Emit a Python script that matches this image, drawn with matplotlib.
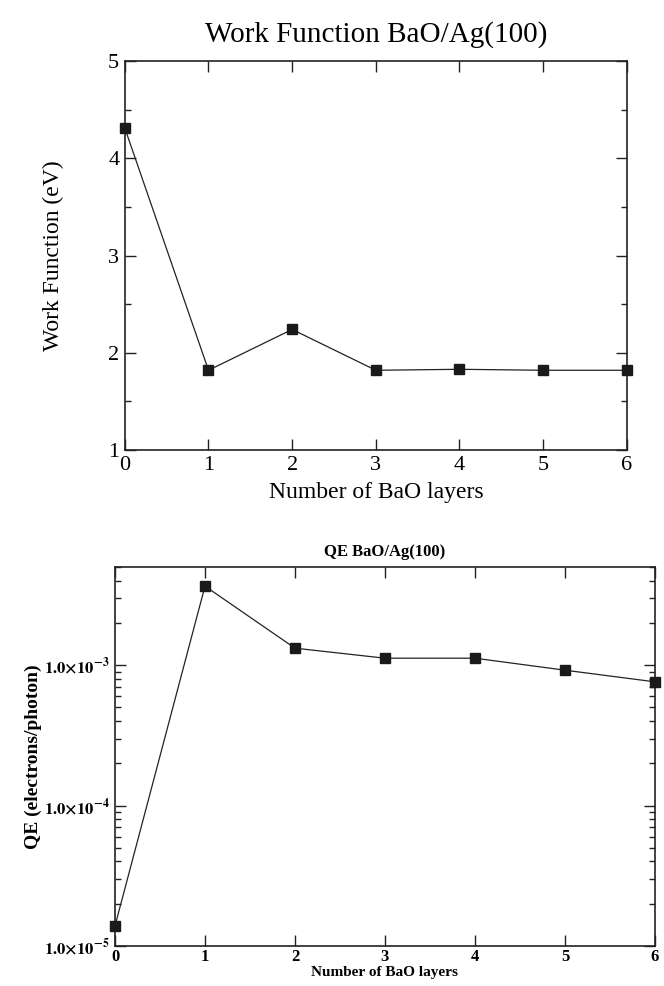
import matplotlib

matplotlib.use("Agg")
import matplotlib.pyplot as plt
import matplotlib.ticker as mticker

# Data
layers = [0, 1, 2, 3, 4, 5, 6]
work_function = [4.31, 1.82, 2.24, 1.82, 1.83, 1.82, 1.82]
qe = [1.39e-5, 3.65e-3, 1.32e-3, 1.12e-3, 1.12e-3, 0.92e-3, 0.76e-3]
qe_tick_values = [1e-5, 1e-4, 1e-3]
qe_tick_labels = [r"$\mathbf{1.0{\times}10^{-5}}$",
                  r"$\mathbf{1.0{\times}10^{-4}}$",
                  r"$\mathbf{1.0{\times}10^{-3}}$"]

FIG_SIZE = (6.64, 9.86)
FIG_DPI = 100

plt.rcParams["font.family"] = ["Liberation Serif", "DejaVu Serif"]
plt.rcParams["mathtext.fontset"] = "stix"


def _style_ticks(ax, size):
    ax.tick_params(which="both", direction="in", top=True, right=True,
                   width=1.0, color="#222222")
    ax.tick_params(which="major", length=8, labelsize=size, pad=4)
    ax.tick_params(which="minor", length=4)
    for sp in ax.spines.values():
        sp.set_linewidth(1.2)
        sp.set_color("#222222")


fig = plt.figure(figsize=FIG_SIZE, dpi=FIG_DPI)

# top: work function
ax1 = fig.add_axes([0.188, 0.5436, 0.756, 0.3945])
ax1.plot(layers, work_function, color="#222222", lw=0.9, marker="s",
         ms=7.5, mfc="#1a1a1a", mec="#1a1a1a", clip_on=False, zorder=5)
ax1.set_xlim(0, 6)
ax1.set_ylim(1, 5)
ax1.xaxis.set_major_locator(mticker.MultipleLocator(1))
ax1.yaxis.set_major_locator(mticker.MultipleLocator(1))
ax1.yaxis.set_minor_locator(mticker.MultipleLocator(0.5))
_style_ticks(ax1, 16)
ax1.set_xlabel("Number of BaO layers", fontsize=17, labelpad=5)
ax1.set_ylabel("Work Function (eV)", fontsize=17, labelpad=32)
ax1.set_title("Work Function BaO/Ag(100)", fontsize=21, pad=14)

# bottom: quantum efficiency
ax2 = fig.add_axes([0.1732, 0.0406, 0.8132, 0.3844])
ax2.plot(layers, qe, color="#222222", lw=0.9, marker="s",
         ms=7.5, mfc="#1a1a1a", mec="#1a1a1a", clip_on=False, zorder=5)
ax2.set_yscale("log")
ax2.set_xlim(0, 6)
ax2.set_ylim(1e-5, 5e-3)
ax2.xaxis.set_major_locator(mticker.MultipleLocator(1))
ax2.set_yticks(qe_tick_values, qe_tick_labels)
ax2.yaxis.set_minor_locator(mticker.LogLocator(base=10, subs=range(2, 10)))
ax2.yaxis.set_minor_formatter(mticker.NullFormatter())
_style_ticks(ax2, 12)
ax2.tick_params(axis="x", which="major", pad=2)
for lab in ax2.get_xticklabels():
    lab.set_fontweight("bold")
ax2.set_xlabel("Number of BaO layers", fontsize=11, fontweight="bold",
               labelpad=1)
ax2.set_ylabel("QE (electrons/photon)", fontsize=14, fontweight="bold",
               labelpad=1)
ax2.set_title("QE BaO/Ag(100)", fontsize=12, fontweight="bold", pad=8)

fig.savefig("out.png", dpi=FIG_DPI)
